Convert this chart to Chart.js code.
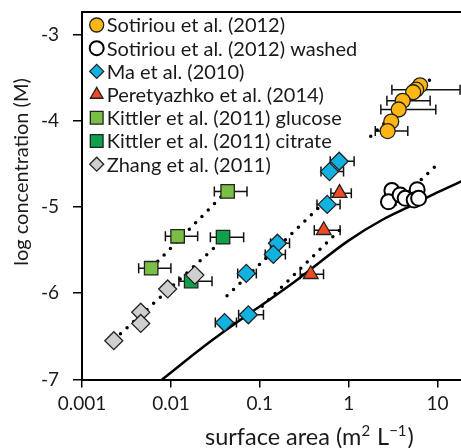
<!DOCTYPE html>
<html lang="en">
<head>
<meta charset="UTF-8">
<title>log concentration vs surface area</title>
<script src="https://cdn.jsdelivr.net/npm/chart.js"></script>
<style>
  html, body { margin: 0; padding: 0; background: #fff; overflow: hidden; }
  #wrap { width: 461px; height: 448px; overflow: hidden; }
</style>
</head>
<body>
<div id="wrap"><canvas id="chart" width="560" height="448"></canvas></div>
<script>
// --- data (x = surface area m2/L, y = log conc.) ---
const sotX = [6.35, 5.74, 5.31, 4.05, 3.65, 3.01, 2.74];
const sotY = [-3.59, -3.64, -3.67, -3.77, -3.87, -4.01, -4.12];
const sotLo = [null, 3.06, null, 2.69, 2.30, null, 1.99];
const sotHi = [null, 17.9, null, 8.24, 9.55, null, 4.62];

const washX = [3.06, 2.80, 3.79, 4.32, 5.89, 5.45, 6.12];
const washY = [-4.81, -4.94, -4.86, -4.90, -4.80, -4.92, -4.90];

const maX = [0.781, 0.608, 0.573, 0.158, 0.142, 0.0705, 0.0743, 0.0401];
const maY = [-4.47, -4.59, -4.97, -5.42, -5.55, -5.77, -6.25, -6.34];
const maLo = [0.62, 0.488, 0.44, 0.132, 0.115, 0.0564, 0.0578, 0.0316];
const maHi = [1.15, 0.875, 0.80, 0.216, 0.194, 0.0914, 0.110, 0.0546];

const perX = [0.789, 0.524, 0.374];
const perY = [-4.84, -5.27, -5.78];
const perLo = [0.631, 0.41, 0.285];
const perHi = [1.07, 0.80, 0.521];

const gluX = [0.0435, 0.0119, 0.0060];
const gluY = [-4.82, -5.34, -5.71];
const gluLo = [0.0308, 0.00867, 0.00434];
const gluHi = [0.0718, 0.020, 0.010];

const citX = [0.0386, 0.0169];
const citY = [-5.35, -5.86];
const citLo = [0.0278, 0.0123];
const citHi = [0.0658, 0.029];

const zhaX = [0.00228, 0.00458, 0.00458, 0.0092, 0.0186];
const zhaY = [-6.55, -6.22, -6.35, -5.95, -5.79];

// dotted trend lines (end points)
const fitSotX = [1.77, 9.14],     fitSotY = [-4.18, -3.48];
const fitWashX = [3.33, 9.37],    fitWashY = [-4.97, -4.53];
const fitMaX = [0.0428, 0.479],   fitMaY = [-6.03, -4.99];
const fitPerX = [0.1067, 0.824],  fitPerY = [-6.15, -5.25];
const fitGluX = [0.00605, 0.0421], fitGluY = [-5.705, -4.82];
const fitCitX = [0.00228, 0.0386], fitCitY = [-6.54, -5.38];

// solid model curve
const curveX = [0.00796, 0.0278, 0.2506, 0.995, 2.42, 4.91, 9.80, 17.9, 100];
const curveY = [-7.0, -6.56, -5.86, -5.39, -5.145, -4.99, -4.835, -4.71, -4.35];

const xTickValues = [0.001, 0.01, 0.1, 1, 10];
const xTickLabels = ['0.001', '0.01', '0.1', '1', '10'];
const yTickValues = [-7, -6, -5, -4, -3];
const yTickLabels = ['-7', '-6', '-5', '-4', '-3'];

const FONT = 'Lato';
const INK = '#1a1a1a';

function pts(xs, ys) { return xs.map((x, i) => ({ x: x, y: ys[i] })); }

function marker(label, xs, ys, style, fill, radius, lo, hi, extra) {
    return Object.assign({
        label: label,
        data: pts(xs, ys),
        pointStyle: style,
        pointRadius: radius,
        pointHoverRadius: radius,
        pointBackgroundColor: fill,
        pointBorderColor: '#222',
        pointBorderWidth: 1.3,
        backgroundColor: fill,
        borderColor: '#222',
        errLo: lo,
        errHi: hi
    }, extra || {});
}

function dotted(xs, ys) {
    return {
        label: '',
        data: pts(xs, ys),
        showLine: true,
        borderColor: '#000',
        borderWidth: 3.5,
        borderDash: [0, 9],
        borderCapStyle: 'round',
        pointRadius: 0,
        fill: false
    };
}

const datasets = [
    marker('Sotiriou et al. (2012)', sotX, sotY, 'circle', '#FDB614', 7.5, sotLo, sotHi),
    marker('Sotiriou et al. (2012) washed', washX, washY, 'circle', '#ffffff', 7.5, null, null,
           { pointBorderColor: '#000', pointBorderWidth: 2, borderColor: '#000' }),
    marker('Ma et al. (2010)', maX, maY, 'rectRot', '#12B2E0', 9, maLo, maHi),
    marker('Peretyazhko et al. (2014)', perX, perY, 'triangle', '#EE4B25', 8.5, perLo, perHi),
    marker('Kittler et al. (2011) glucose', gluX, gluY, 'rect', '#79BF45', 9.5, gluLo, gluHi),
    marker('Kittler et al. (2011) citrate', citX, citY, 'rect', '#0EA14B', 9.5, citLo, citHi),
    marker('Zhang et al. (2011)', zhaX, zhaY, 'rectRot', '#CFCFCF', 9, null, null, { order: -1 }),
    dotted(fitSotX, fitSotY),
    dotted(fitWashX, fitWashY),
    dotted(fitMaX, fitMaY),
    dotted(fitPerX, fitPerY),
    dotted(fitGluX, fitGluY),
    dotted(fitCitX, fitCitY),
    {
        label: '',
        data: pts(curveX, curveY),
        showLine: true,
        borderColor: '#000',
        borderWidth: 2.5,
        cubicInterpolationMode: 'monotone',
        pointRadius: 0,
        fill: false
    }
];

// horizontal error bars, drawn under the markers
const errorBars = {
    id: 'errorBars',
    beforeDatasetsDraw(chart) {
        const ctx = chart.ctx, xs = chart.scales.x;
        ctx.save();
        ctx.strokeStyle = '#111';
        ctx.lineWidth = 1.5;
        chart.data.datasets.forEach((ds, i) => {
            if (!ds.errLo) return;
            const meta = chart.getDatasetMeta(i);
            meta.data.forEach((pt, j) => {
                const lo = ds.errLo[j], hi = ds.errHi[j];
                if (lo == null) return;
                const x1 = xs.getPixelForValue(lo), x2 = xs.getPixelForValue(hi), y = pt.y;
                ctx.beginPath();
                ctx.moveTo(x1, y); ctx.lineTo(x2, y);
                ctx.moveTo(x1, y - 5); ctx.lineTo(x1, y + 5);
                ctx.moveTo(x2, y - 5); ctx.lineTo(x2, y + 5);
                ctx.stroke();
            });
        });
        ctx.restore();
    }
};

// legend symbol sizes (a bit smaller than the plotted markers)
const legendRadius = { circle: 7, rectRot: 7, triangle: 7.3, rect: 9 };

function drawMarker(ctx, style, r, x, y) {
    if (Chart.helpers && Chart.helpers.drawPoint) {
        Chart.helpers.drawPoint(ctx, { pointStyle: style, radius: r, rotation: 0, borderWidth: ctx.lineWidth }, x, y);
        return;
    }
    ctx.beginPath();
    if (style === 'circle') {
        ctx.arc(x, y, r, 0, Math.PI * 2);
    } else if (style === 'rectRot') {
        ctx.moveTo(x - r, y); ctx.lineTo(x, y - r); ctx.lineTo(x + r, y); ctx.lineTo(x, y + r);
    } else if (style === 'triangle') {
        ctx.moveTo(x, y - r);
        ctx.lineTo(x + r * 0.866, y + r / 2);
        ctx.lineTo(x - r * 0.866, y + r / 2);
    } else {
        const s = r * Math.SQRT1_2;
        ctx.rect(x - s, y - s, 2 * s, 2 * s);
    }
    ctx.closePath();
    ctx.fill();
    ctx.stroke();
}

// legend in the top-left corner of the plot
const legendBox = {
    id: 'legendBox',
    afterDatasetsDraw(chart) {
        const ctx = chart.ctx, a = chart.chartArea;
        ctx.save();
        ctx.font = '20px ' + FONT;
        ctx.textAlign = 'left';
        ctx.textBaseline = 'middle';
        chart.data.datasets.slice(0, 7).forEach((ds, i) => {
            const y = a.top + 13 + i * 23.2;
            ctx.fillStyle = ds.pointBackgroundColor;
            ctx.strokeStyle = ds.pointBorderColor;
            ctx.lineWidth = ds.pointBorderWidth;
            drawMarker(ctx, ds.pointStyle, legendRadius[ds.pointStyle], a.left + 14.7, y);
            ctx.fillStyle = INK;
            ctx.fillText(ds.label, a.left + 24.7, y + 1);
        });
        ctx.restore();
    }
};

// top frame line + axis titles
const frame = {
    id: 'frame',
    afterDraw(chart) {
        const ctx = chart.ctx, a = chart.chartArea;
        ctx.save();
        ctx.strokeStyle = '#000';
        ctx.lineWidth = 2;
        ctx.beginPath();
        ctx.moveTo(a.left - 1, a.top);
        ctx.lineTo(a.right, a.top);
        ctx.stroke();

        ctx.fillStyle = INK;
        ctx.font = '20px ' + FONT;
        ctx.textAlign = 'center';
        ctx.textBaseline = 'middle';
        ctx.save();
        ctx.translate(22, 172);
        ctx.rotate(-Math.PI / 2);
        ctx.fillText('log concentration (M)', 0, 0);
        ctx.restore();

        // x title with hand-set superscripts
        ctx.textAlign = 'left';
        ctx.textBaseline = 'alphabetic';
        const big = '23.5px ' + FONT, small = '15px ' + FONT;
        const parts = [
            ['surface area (m', big, 0],
            ['2', small, -9],
            [' L', big, 0],
            ['\u22121', small, -9],
            [')', big, 0]
        ];
        let x = 205;
        parts.forEach(p => {
            ctx.font = p[1];
            ctx.fillText(p[0], x, 445 + p[2]);
            x += ctx.measureText(p[0]).width + (p[1] === small ? 1 : 0);
        });
        ctx.restore();
    }
};

new Chart(document.getElementById('chart').getContext('2d'), {
    type: 'scatter',
    data: { datasets: datasets },
    plugins: [errorBars, legendBox, frame],
    options: {
        responsive: false,
        animation: false,
        layout: { padding: { left: 0, top: 12, right: 33.5, bottom: 0 } },
        plugins: {
            tooltip: { enabled: false },
            legend: { display: false }
        },
        scales: {
            x: {
                type: 'logarithmic',
                min: 0.001,
                max: 100,
                afterBuildTicks: s => { s.ticks = xTickValues.map(v => ({ value: v })); },
                afterFit: s => { s.height = 68.5; },
                ticks: {
                    callback: (v, i) => xTickLabels[i],
                    color: INK,
                    font: { family: FONT, size: 19 },
                    padding: 5,
                    maxRotation: 0,
                    autoSkip: false
                },
                grid: { drawOnChartArea: false, drawTicks: true, tickLength: 8, color: '#000', lineWidth: 1.5 },
                border: { display: true, color: '#000', width: 2 }
            },
            y: {
                min: -7,
                max: -2.74,
                afterBuildTicks: s => { s.ticks = yTickValues.map(v => ({ value: v })); },
                afterFit: s => {
                    s.width = 82;
                    s.paddingTop = 0;
                    s.paddingBottom = 0;
                },
                ticks: {
                    callback: (v, i) => yTickLabels[i],
                    color: INK,
                    font: { family: FONT, size: 19 },
                    padding: 14
                },
                grid: { drawOnChartArea: false, drawTicks: true, tickLength: 9, color: '#000', lineWidth: 1.5 },
                border: { display: true, color: '#000', width: 2 }
            }
        }
    }
});
</script>
</body>
</html>
